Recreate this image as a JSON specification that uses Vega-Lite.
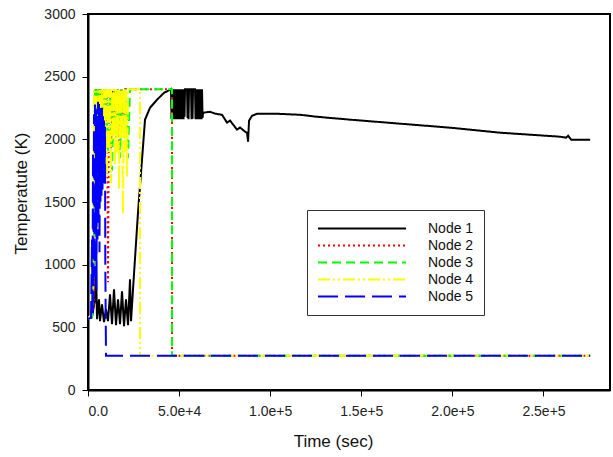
{
  "$schema": "https://vega.github.io/schema/vega-lite/v6.json",
  "width": 522,
  "height": 376,
  "autosize": {"type": "none"},
  "padding": {"left": 88, "top": 14, "right": 3, "bottom": 67},
  "background": "white",
  "config": {
    "view": {"stroke": "black", "strokeWidth": 2},
    "font": "Liberation Sans",
    "axis": {
      "domainColor": "black", "domainWidth": 2, "tickColor": "black", "tickWidth": 1, "tickSize": 6,
      "labelFont": "Liberation Sans", "labelFontSize": 14, "labelColor": "#222",
      "titleFont": "Liberation Sans", "titleFontSize": 17, "titleFontWeight": "normal", "titleColor": "#111",
      "grid": false
    }
  },
  "data": {
    "values": [
      {"node":"Node 1","t":0,"temp":573},{"node":"Node 1","t":2196,"temp":580},{"node":"Node 1","t":3843,"temp":724},{"node":"Node 1","t":4392,"temp":987},{"node":"Node 1","t":4941,"temp":565},{"node":"Node 1","t":6039,"temp":724},{"node":"Node 1","t":6588,"temp":549},{"node":"Node 1","t":7686,"temp":684},{"node":"Node 1","t":8784,"temp":541},{"node":"Node 1","t":9882,"temp":645},{"node":"Node 1","t":10980,"temp":549},{"node":"Node 1","t":12078,"temp":764},{"node":"Node 1","t":13176,"temp":525},{"node":"Node 1","t":14274,"temp":804},{"node":"Node 1","t":15372,"temp":517},{"node":"Node 1","t":16470,"temp":724},{"node":"Node 1","t":17568,"temp":525},{"node":"Node 1","t":18666,"temp":788},{"node":"Node 1","t":19764,"temp":509},{"node":"Node 1","t":20862,"temp":724},{"node":"Node 1","t":21960,"temp":517},{"node":"Node 1","t":23058,"temp":883},{"node":"Node 1","t":23607,"temp":549},{"node":"Node 1","t":24705,"temp":804},{"node":"Node 1","t":27450,"temp":1417},{"node":"Node 1","t":29646,"temp":1838},{"node":"Node 1","t":31293,"temp":2157},{"node":"Node 1","t":34038,"temp":2252},{"node":"Node 1","t":37881,"temp":2316},{"node":"Node 1","t":41724,"temp":2371},{"node":"Node 1","t":45018,"temp":2395},
      {"node":"Node 1","t":45567,"temp":2400},{"node":"Node 1","t":45842,"temp":2160},{"node":"Node 1","t":46116,"temp":2400},{"node":"Node 1","t":46391,"temp":2165},{"node":"Node 1","t":46665,"temp":2400},{"node":"Node 1","t":46940,"temp":2160},{"node":"Node 1","t":47214,"temp":2400},{"node":"Node 1","t":47489,"temp":2170},{"node":"Node 1","t":47763,"temp":2400},{"node":"Node 1","t":48038,"temp":2160},{"node":"Node 1","t":48312,"temp":2400},{"node":"Node 1","t":48587,"temp":2165},{"node":"Node 1","t":48861,"temp":2400},{"node":"Node 1","t":49136,"temp":2160},{"node":"Node 1","t":49410,"temp":2400},{"node":"Node 1","t":49685,"temp":2170},{"node":"Node 1","t":49959,"temp":2400},{"node":"Node 1","t":50234,"temp":2160},{"node":"Node 1","t":50508,"temp":2400},{"node":"Node 1","t":50783,"temp":2165},{"node":"Node 1","t":51057,"temp":2400},{"node":"Node 1","t":51332,"temp":2160},{"node":"Node 1","t":51606,"temp":2400},{"node":"Node 1","t":51881,"temp":2170},{"node":"Node 1","t":52155,"temp":2400},{"node":"Node 1","t":52430,"temp":2160},{"node":"Node 1","t":52704,"temp":2400},{"node":"Node 1","t":52979,"temp":2180},{"node":"Node 1","t":53253,"temp":2400},{"node":"Node 1","t":54351,"temp":2400},{"node":"Node 1","t":54626,"temp":2170},{"node":"Node 1","t":54900,"temp":2400},{"node":"Node 1","t":55175,"temp":2160},{"node":"Node 1","t":55449,"temp":2400},{"node":"Node 1","t":56547,"temp":2400},{"node":"Node 1","t":56822,"temp":2160},{"node":"Node 1","t":57096,"temp":2400},{"node":"Node 1","t":57371,"temp":2165},{"node":"Node 1","t":57645,"temp":2400},{"node":"Node 1","t":58743,"temp":2400},{"node":"Node 1","t":59018,"temp":2160},{"node":"Node 1","t":59292,"temp":2400},{"node":"Node 1","t":59567,"temp":2165},{"node":"Node 1","t":59841,"temp":2400},{"node":"Node 1","t":60116,"temp":2160},{"node":"Node 1","t":60390,"temp":2400},{"node":"Node 1","t":60665,"temp":2170},{"node":"Node 1","t":60939,"temp":2400},{"node":"Node 1","t":61214,"temp":2160},{"node":"Node 1","t":61488,"temp":2400},{"node":"Node 1","t":61763,"temp":2165},{"node":"Node 1","t":62037,"temp":2400},{"node":"Node 1","t":62312,"temp":2160},{"node":"Node 1","t":62586,"temp":2400},{"node":"Node 1","t":62861,"temp":2170},
      {"node":"Node 1","t":63135,"temp":2212},{"node":"Node 1","t":66978,"temp":2220},{"node":"Node 1","t":69723,"temp":2205},{"node":"Node 1","t":73566,"temp":2196},{"node":"Node 1","t":76311,"temp":2133},{"node":"Node 1","t":77958,"temp":2150},{"node":"Node 1","t":81801,"temp":2077},{"node":"Node 1","t":83448,"temp":2095},{"node":"Node 1","t":86193,"temp":2061},{"node":"Node 1","t":87291,"temp":2053},{"node":"Node 1","t":87840,"temp":1982},{"node":"Node 1","t":88389,"temp":2149},{"node":"Node 1","t":90036,"temp":2188},{"node":"Node 1","t":92781,"temp":2204},{"node":"Node 1","t":103761,"temp":2204},{"node":"Node 1","t":116388,"temp":2196},{"node":"Node 1","t":125721,"temp":2180},{"node":"Node 1","t":143840,"temp":2157},{"node":"Node 1","t":171290,"temp":2125},{"node":"Node 1","t":198740,"temp":2093},{"node":"Node 1","t":226190,"temp":2053},{"node":"Node 1","t":242660,"temp":2037},{"node":"Node 1","t":259130,"temp":2021},{"node":"Node 1","t":262420,"temp":2013},{"node":"Node 1","t":263520,"temp":2029},{"node":"Node 1","t":265170,"temp":1997},{"node":"Node 1","t":275600,"temp":1997},

      {"node":"Node 2","t":0,"temp":570},{"node":"Node 2","t":2196,"temp":600},{"node":"Node 2","t":3294,"temp":700},{"node":"Node 2","t":4392,"temp":2400},{"node":"Node 2","t":5490,"temp":1500},{"node":"Node 2","t":6588,"temp":2400},{"node":"Node 2","t":7686,"temp":1800},{"node":"Node 2","t":8784,"temp":2400},{"node":"Node 2","t":9882,"temp":2000},{"node":"Node 2","t":10431,"temp":2400},{"node":"Node 2","t":10980,"temp":860},{"node":"Node 2","t":11529,"temp":2400},{"node":"Node 2","t":12627,"temp":1900},{"node":"Node 2","t":13725,"temp":2400},{"node":"Node 2","t":14823,"temp":2100},{"node":"Node 2","t":15921,"temp":2400},{"node":"Node 2","t":17019,"temp":1950},{"node":"Node 2","t":18117,"temp":2400},{"node":"Node 2","t":19215,"temp":2150},{"node":"Node 2","t":20313,"temp":2400},{"node":"Node 2","t":46116,"temp":2400},{"node":"Node 2","t":46117,"temp":273},{"node":"Node 2","t":275600,"temp":273},

      {"node":"Node 3","t":0,"temp":570},{"node":"Node 3","t":2196,"temp":580},{"node":"Node 3","t":2745,"temp":850},{"node":"Node 3","t":3294,"temp":1000},{"node":"Node 3","t":3843,"temp":2400},{"node":"Node 3","t":4392,"temp":1700},{"node":"Node 3","t":4941,"temp":2400},{"node":"Node 3","t":5490,"temp":1400},{"node":"Node 3","t":6039,"temp":2400},{"node":"Node 3","t":6588,"temp":1600},{"node":"Node 3","t":7137,"temp":2400},{"node":"Node 3","t":7686,"temp":1650},{"node":"Node 3","t":8235,"temp":2400},{"node":"Node 3","t":8784,"temp":1800},{"node":"Node 3","t":9882,"temp":2400},{"node":"Node 3","t":10980,"temp":1900},{"node":"Node 3","t":12078,"temp":2400},{"node":"Node 3","t":13176,"temp":1750},{"node":"Node 3","t":14274,"temp":2400},{"node":"Node 3","t":15372,"temp":2000},{"node":"Node 3","t":16470,"temp":2400},{"node":"Node 3","t":17568,"temp":1850},{"node":"Node 3","t":18666,"temp":2400},{"node":"Node 3","t":19764,"temp":2050},{"node":"Node 3","t":20862,"temp":2400},{"node":"Node 3","t":21960,"temp":1850},{"node":"Node 3","t":23058,"temp":2400},{"node":"Node 3","t":46116,"temp":2400},{"node":"Node 3","t":46117,"temp":273},{"node":"Node 3","t":275600,"temp":273},

      {"node":"Node 4","t":0,"temp":570},{"node":"Node 4","t":1647,"temp":600},{"node":"Node 4","t":2196,"temp":1000},{"node":"Node 4","t":2745,"temp":750},{"node":"Node 4","t":3294,"temp":2400},{"node":"Node 4","t":3843,"temp":1800},{"node":"Node 4","t":4392,"temp":2400},{"node":"Node 4","t":4941,"temp":2000},{"node":"Node 4","t":5490,"temp":2400},{"node":"Node 4","t":6039,"temp":1700},{"node":"Node 4","t":6588,"temp":2400},{"node":"Node 4","t":7137,"temp":1900},{"node":"Node 4","t":7686,"temp":2400},{"node":"Node 4","t":8235,"temp":1750},{"node":"Node 4","t":8784,"temp":2400},{"node":"Node 4","t":9333,"temp":2000},{"node":"Node 4","t":9882,"temp":2400},{"node":"Node 4","t":10431,"temp":1700},{"node":"Node 4","t":10980,"temp":2400},{"node":"Node 4","t":11529,"temp":1900},{"node":"Node 4","t":12078,"temp":2400},{"node":"Node 4","t":12627,"temp":1650},{"node":"Node 4","t":13176,"temp":2400},{"node":"Node 4","t":13725,"temp":2000},{"node":"Node 4","t":14274,"temp":2400},{"node":"Node 4","t":14823,"temp":1800},{"node":"Node 4","t":15372,"temp":2400},{"node":"Node 4","t":15921,"temp":1900},{"node":"Node 4","t":16470,"temp":2400},{"node":"Node 4","t":17019,"temp":1600},{"node":"Node 4","t":17568,"temp":2400},{"node":"Node 4","t":18117,"temp":2000},{"node":"Node 4","t":18666,"temp":2400},{"node":"Node 4","t":19215,"temp":1400},{"node":"Node 4","t":19764,"temp":2400},{"node":"Node 4","t":20313,"temp":1900},{"node":"Node 4","t":20862,"temp":2400},{"node":"Node 4","t":21411,"temp":1700},{"node":"Node 4","t":21960,"temp":2400},{"node":"Node 4","t":28548,"temp":2400},{"node":"Node 4","t":28549,"temp":273},{"node":"Node 4","t":275600,"temp":273},

      {"node":"Node 5","t":0,"temp":570},{"node":"Node 5","t":1647,"temp":575},{"node":"Node 5","t":2196,"temp":1200},{"node":"Node 5","t":2470,"temp":600},{"node":"Node 5","t":2745,"temp":1900},{"node":"Node 5","t":3019,"temp":700},{"node":"Node 5","t":3294,"temp":2200},{"node":"Node 5","t":3568,"temp":900},{"node":"Node 5","t":3843,"temp":2300},{"node":"Node 5","t":4117,"temp":1300},{"node":"Node 5","t":4392,"temp":2250},{"node":"Node 5","t":4666,"temp":800},{"node":"Node 5","t":4941,"temp":2150},{"node":"Node 5","t":5215,"temp":1200},{"node":"Node 5","t":5490,"temp":2300},{"node":"Node 5","t":5764,"temp":1400},{"node":"Node 5","t":6039,"temp":2300},{"node":"Node 5","t":6313,"temp":1100},{"node":"Node 5","t":6588,"temp":2200},{"node":"Node 5","t":6862,"temp":1500},{"node":"Node 5","t":7137,"temp":2250},{"node":"Node 5","t":7411,"temp":1550},{"node":"Node 5","t":7686,"temp":2280},{"node":"Node 5","t":7960,"temp":1600},{"node":"Node 5","t":8235,"temp":2200},{"node":"Node 5","t":8509,"temp":1650},{"node":"Node 5","t":8784,"temp":2150},{"node":"Node 5","t":9058,"temp":1700},{"node":"Node 5","t":9333,"temp":2100},{"node":"Node 5","t":9500,"temp":1000},{"node":"Node 5","t":9882,"temp":273},{"node":"Node 5","t":275600,"temp":273}
    ]
  },
  "mark": {"type": "line", "strokeWidth": 2, "clip": true},
  "encoding": {
    "x": {
      "field": "t", "type": "quantitative",
      "scale": {"domain": [0, 286500], "nice": false, "zero": false},
      "axis": {
        "title": "Time (sec)",
        "values": [0, 50000, 100000, 150000, 200000, 250000],
        "labelExpr": "datum.value == 0 ? '0.0' : format(datum.value, '.1e')",
        "labelPadding": 8,
        "titleX": 245, "titleY": 43, "titleAlign": "center", "titleBaseline": "top"
      }
    },
    "y": {
      "field": "temp", "type": "quantitative",
      "scale": {"domain": [0, 3000], "nice": false},
      "axis": {
        "title": "Temperatute (K)",
        "values": [0, 500, 1000, 1500, 2000, 2500, 3000],
        "format": "d",
        "labelPadding": 7,
        "titleX": -58, "titleY": 179, "titleAlign": "center", "titleAngle": -90, "titleBaseline": "bottom"
      }
    },
    "color": {
      "field": "node", "type": "nominal",
      "scale": {"domain": ["Node 1", "Node 2", "Node 3", "Node 4", "Node 5"], "range": ["#000000", "#ff0000", "#00ff00", "#ffff00", "#0000ff"]},
      "legend": {
        "title": null, "orient": "none", "legendX": 219, "legendY": 196,
        "strokeColor": "#333", "fillColor": "white", "padding": 10,
        "symbolType": "stroke", "symbolSize": 7744, "symbolStrokeWidth": 2, "clipHeight": 17, "rowPadding": 0,
        "labelFont": "Liberation Sans", "labelFontSize": 14, "labelColor": "#111", "labelOffset": 21
      }
    },
    "strokeDash": {
      "field": "node", "type": "nominal",
      "scale": {"domain": ["Node 1", "Node 2", "Node 3", "Node 4", "Node 5"], "range": [[1, 0], [2, 3], [9, 5], [12, 3, 2, 3, 2, 3], [20, 7]]},
      "legend": {
        "title": null, "orient": "none", "legendX": 219, "legendY": 196,
        "strokeColor": "#333", "fillColor": "white", "padding": 10,
        "symbolType": "stroke", "symbolSize": 7744, "symbolStrokeWidth": 2, "clipHeight": 17, "rowPadding": 0,
        "labelFont": "Liberation Sans", "labelFontSize": 14, "labelColor": "#111", "labelOffset": 21
      }
    }
  }
}
